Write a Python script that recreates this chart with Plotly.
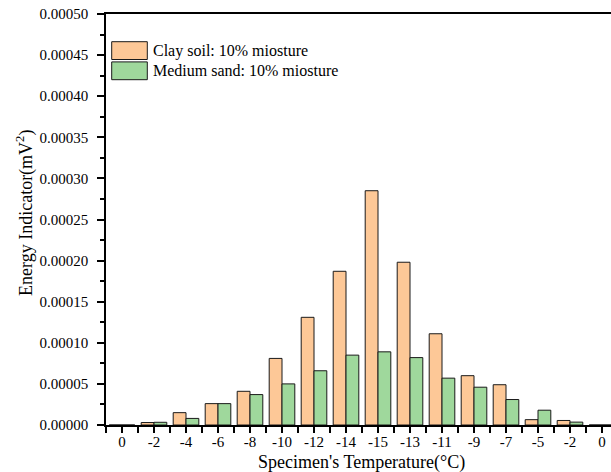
import plotly.graph_objects as go

# Specimen temperature sequence (cooling then warming), one bar pair per step
temps = ["0", "-2", "-4", "-6", "-8", "-10", "-12", "-14",
         "-15", "-13", "-11", "-9", "-7", "-5", "-2", "0"]

clay_energy = [0.0, 0.000003, 0.000015, 0.000026, 0.000041, 0.000081, 0.000131, 0.000187,
               0.000285, 0.000198, 0.000111, 0.000060, 0.000049, 0.0000065, 0.0000055, 0.0]
sand_energy = [0.0, 0.0000033, 0.000008, 0.000026, 0.000037, 0.000050, 0.000066, 0.000085,
               0.000089, 0.000082, 0.000057, 0.000046, 0.000031, 0.000018, 0.0000035, 0.0]

series_names = ["Clay soil: 10% miosture", "Medium sand: 10% miosture"]
clay_color = "#FDC897"
sand_color = "#9FD89C"
edge_color = "#1a1a1a"

W, H = 611, 472
L, R, T, B = 106, 0, 14, 47
FONT = "Liberation Serif, Times New Roman, serif"

pos = list(range(len(temps)))

fig = go.Figure()
fig.add_trace(go.Bar(x=pos, y=clay_energy, name=series_names[0],
                     marker=dict(color=clay_color, line=dict(color=edge_color, width=1))))
fig.add_trace(go.Bar(x=pos, y=sand_energy, name=series_names[1],
                     marker=dict(color=sand_color, line=dict(color=edge_color, width=1))))

# labelled ticks at category centres, unlabelled ticks at category boundaries
boundary_vals = [i - 0.5 for i in range(len(temps) + 1)]

pw = W - L - R
ph = H - T - B
x_hi = pw / 32.0 - 0.5


def px_x(px):
    return (px - L) / pw


def px_y(py):
    return (H - B - py) / ph


shapes = []
annotations = []
# hand-built legend with wide swatches
for k, (name, col) in enumerate(zip(series_names, [clay_color, sand_color])):
    y0 = 41.7 + k * 20.2
    y1 = y0 + 17.8
    shapes.append(dict(type="rect", xref="paper", yref="paper",
                       x0=px_x(111.7), x1=px_x(147.3), y0=px_y(y1), y1=px_y(y0),
                       fillcolor=col, line=dict(color=edge_color, width=1)))
    annotations.append(dict(text=name, xref="paper", yref="paper",
                            x=px_x(151), y=px_y((y0 + y1) / 2), xanchor="left", yanchor="middle",
                            showarrow=False, font=dict(family=FONT, size=16, color="black")))

# axis titles
annotations.append(dict(text="Specimen's Temperature(\u00b0C)", xref="paper", yref="paper",
                        x=px_x(361), y=px_y(462), xanchor="center", yanchor="middle",
                        showarrow=False, font=dict(family=FONT, size=18, color="black")))
annotations.append(dict(text="Energy Indicator(mV<sup>2</sup>)", xref="paper", yref="paper",
                        x=px_x(25), y=px_y(213), xanchor="center", yanchor="middle", textangle=-90,
                        showarrow=False, font=dict(family=FONT, size=18, color="black")))

fig.update_layout(
    width=W, height=H,
    margin=dict(l=L, r=R, t=T, b=B, pad=0),
    paper_bgcolor="white", plot_bgcolor="white",
    barmode="group", bargap=0.2, bargroupgap=0,
    showlegend=False,
    font=dict(family=FONT, size=15, color="black"),
    shapes=shapes, annotations=annotations,
    xaxis=dict(range=[-0.5, x_hi], tickmode="array", tickvals=pos, ticktext=temps,
               ticks="outside", ticklen=6, tickwidth=1.5, tickcolor="black",
               minor=dict(tickmode="array", tickvals=boundary_vals, ticks="outside",
                          ticklen=6, tickwidth=1.5, tickcolor="black"),
               showline=True, linecolor="black", linewidth=1.5, mirror=True,
               showgrid=False, zeroline=False, ticklabelstandoff=-4,
               tickfont=dict(family=FONT, size=15)),
    yaxis=dict(range=[0, 0.0005], tickmode="linear", tick0=0, dtick=0.00005, tickformat=".5f",
               ticks="outside", ticklen=7, tickwidth=1.5, tickcolor="black",
               minor=dict(dtick=0.000025, ticks="outside", ticklen=4, tickwidth=1.5, tickcolor="black"),
               showline=True, linecolor="black", linewidth=1.5,
               showgrid=False, zeroline=False, ticklabelstandoff=6,
               tickfont=dict(family=FONT, size=15)),
)

fig.write_html("out.html")
